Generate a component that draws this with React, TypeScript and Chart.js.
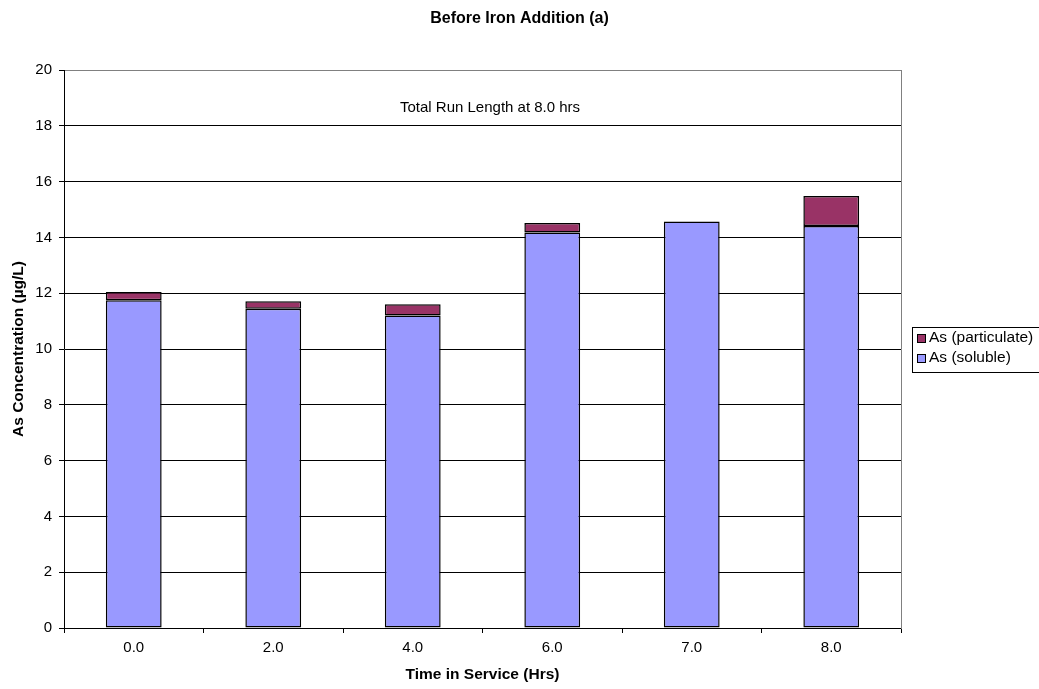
import React, { useEffect, useRef } from "react";
import { Chart, registerables } from "chart.js";

Chart.register(...registerables);

const categories = ["0.0", "2.0", "4.0", "6.0", "7.0", "8.0"];
const solubleValues = [11.75, 11.44, 11.2, 14.18, 14.57, 14.41];
const particulateValues = [0.29, 0.27, 0.4, 0.34, 0, 1.07];
const yTicks = [0, 2, 4, 6, 8, 10, 12, 14, 16, 18, 20];
const chartTitle = "Before Iron Addition (a)";
const xTitle = "Time in Service (Hrs)";
const yTitle = "As Concentration (µg/L)";
const noteText = "Total Run Length at 8.0 hrs";
const legendItems = [
  { label: "As (particulate)", color: "#993366" },
  { label: "As (soluble)", color: "#9999FF" },
];

const FONT = "Arial, 'Liberation Sans', sans-serif";

const extrasPlugin = {
  id: "extras",
  afterDraw(chart: any) {
    const ctx = chart.ctx;
    const area = chart.chartArea;
    ctx.save();
    ctx.fillStyle = "#000";
    ctx.font = `15px ${FONT}`;
    ctx.textAlign = "center";
    ctx.textBaseline = "middle";
    ctx.fillText(noteText, area.left + (area.right - area.left) * 0.509, chart.scales.y.getPixelForValue(18.64));
    // legend
    const lx = 912;
    const ly = 327;
    ctx.strokeStyle = "#000";
    ctx.lineWidth = 1;
    ctx.strokeRect(lx + 0.5, ly + 0.5, 140, 45);
    ctx.textAlign = "left";
    ctx.font = `15.5px ${FONT}`;
    legendItems.forEach((it, i) => {
      const cy = 338 + i * 19.7;
      const sy = Math.round(cy - 4);
      ctx.fillStyle = it.color;
      ctx.fillRect(917, sy, 8, 8);
      ctx.strokeStyle = "#000";
      ctx.strokeRect(917.5, sy + 0.5, 8, 8);
      ctx.fillStyle = "#000";
      ctx.fillText(it.label, 929, cy);
    });
    ctx.restore();
  },
};

export default function App() {
  const ref = useRef<HTMLCanvasElement | null>(null);
  useEffect(() => {
    if (!ref.current) return;
    const chart = new Chart(ref.current, {
      type: "bar",
      data: {
        labels: categories,
        datasets: [
          {
            label: "As (soluble)",
            data: solubleValues,
            backgroundColor: "#9999FF",
            borderColor: "#000000",
            borderWidth: 1.5,
            borderSkipped: false,
            stack: "s",
          },
          {
            label: "As (particulate)",
            data: particulateValues,
            backgroundColor: "#993366",
            borderColor: "#000000",
            borderWidth: 1.5,
            borderSkipped: false,
            stack: "s",
          },
        ],
      },
      options: {
        animation: false,
        responsive: false,
        maintainAspectRatio: false,
        layout: { padding: 0 },
        datasets: { bar: { barPercentage: 0.4, categoryPercentage: 1 } },
        plugins: {
          legend: { display: false },
          tooltip: { enabled: false },
          title: {
            display: true,
            text: chartTitle,
            color: "#000",
            font: { family: FONT, size: 16, weight: "bold" },
            padding: { top: 9.4, bottom: 41.4 },
          },
        },
        scales: {
          x: {
            stacked: true,
            grid: {
              offset: true,
              drawOnChartArea: false,
              drawTicks: true,
              tickLength: 5,
              color: "#000",
            },
            border: { display: true, color: "#000" },
            ticks: { color: "#000", font: { family: FONT, size: 15 }, padding: 6 },
            title: {
              display: true,
              text: xTitle,
              color: "#000",
              font: { family: FONT, size: 15.5, weight: "bold" },
              padding: { top: 0, bottom: 5 },
            },
            afterFit: (s: any) => {
              s.height = 61;
            },
          },
          y: {
            stacked: true,
            min: 0,
            max: 20,
            afterBuildTicks: (s: any) => {
              s.ticks = yTicks.map((v) => ({ value: v }));
            },
            grid: {
              color: (c: any) => (c.tick && c.tick.value === 20 ? "#808080" : "#000"),
              tickLength: 5,
              tickColor: "#000",
            },
            border: { display: true, color: "#000" },
            ticks: { color: "#000", font: { family: FONT, size: 15 }, padding: 7 },
            title: {
              display: true,
              text: yTitle,
              color: "#000",
              font: { family: FONT, size: 15.5, weight: "bold" },
              padding: { top: 9, bottom: 0 },
            },
            afterFit: (s: any) => {
              s.width = 64;
            },
          },
          y2: {
            position: "right",
            min: 0,
            max: 20,
            grid: { display: false },
            ticks: { display: false },
            border: { display: true, color: "#808080" },
            afterFit: (s: any) => {
              s.width = 138;
            },
          },
        },
      } as any,
      plugins: [extrasPlugin],
    });
    return () => chart.destroy();
  }, []);
  return (
    <div style={{ position: "absolute", left: 0, top: 0, width: 1039, height: 689, background: "#fff" }}>
      <canvas ref={ref} width={1039} height={689} />
    </div>
  );
}
